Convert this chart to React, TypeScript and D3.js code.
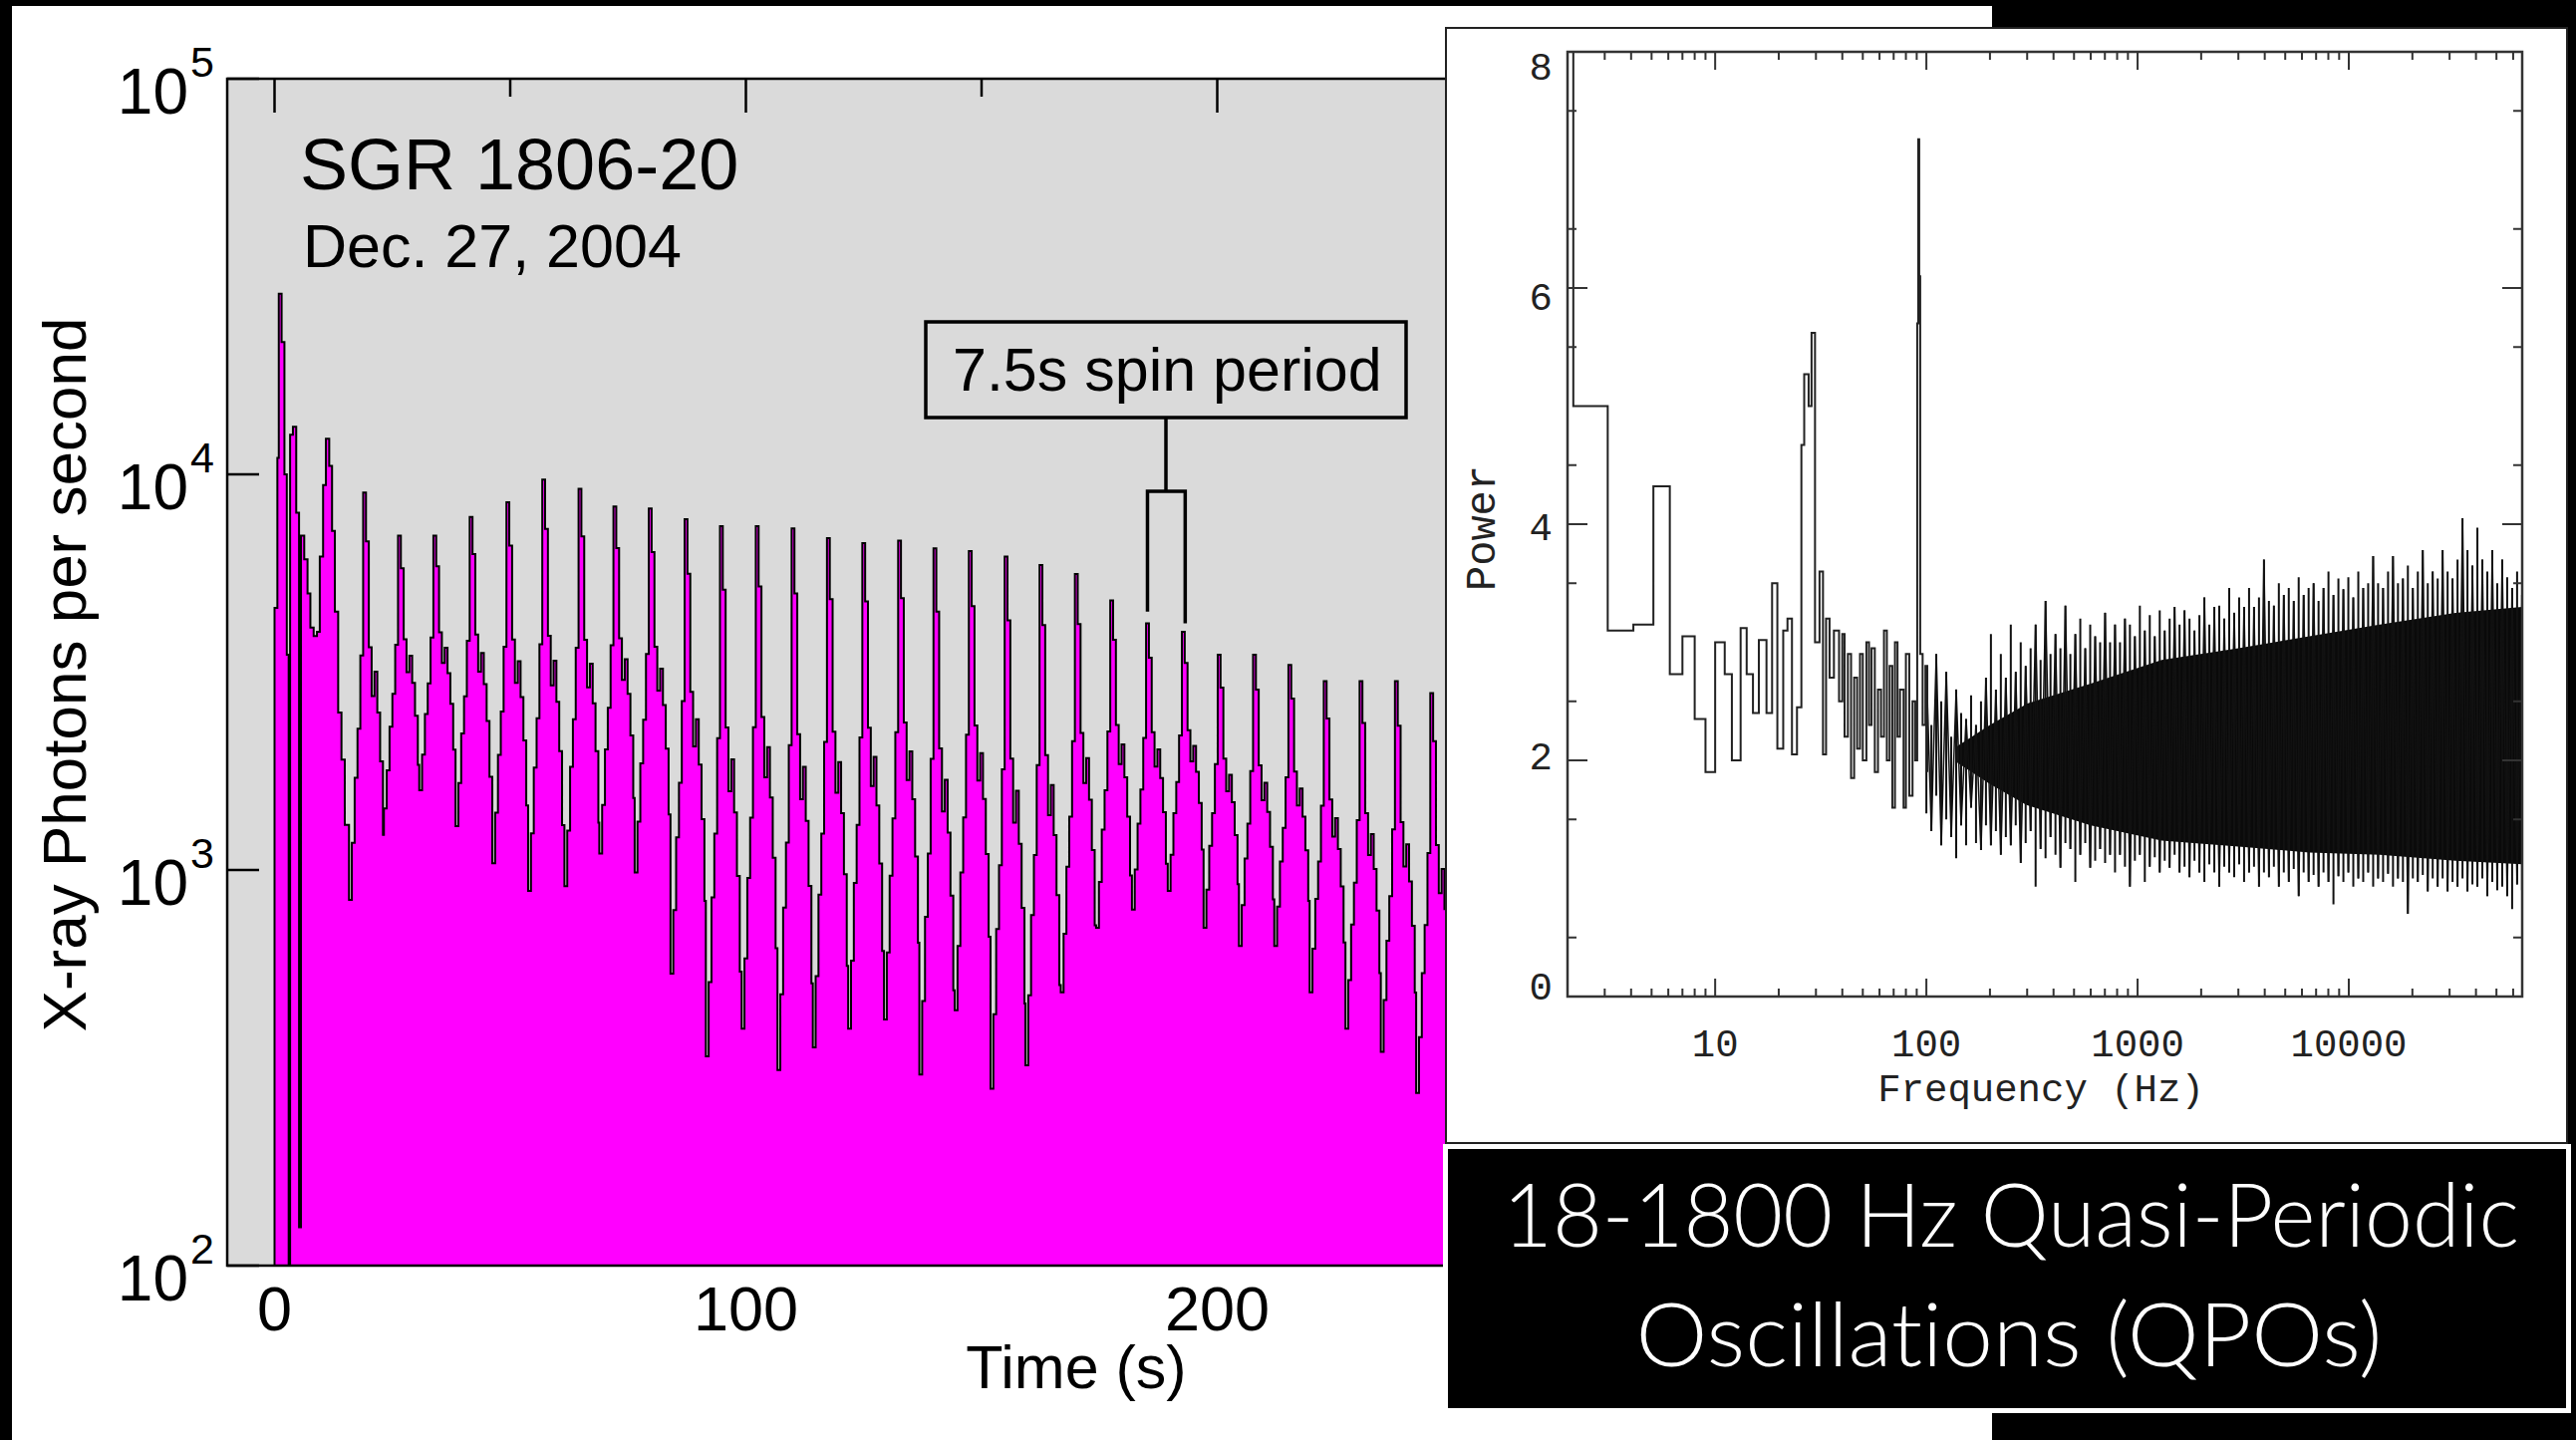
import React from 'react';
import * as d3 from 'd3';

// ---------------- Left panel: SGR 1806-20 light curve ----------------
const timeMajorTicks = [0, 100, 200, 300];
const timeMinorTicks = [50, 150, 250];
const countTicks = [100, 1000, 10000, 100000];
const countTickExponents = ['2', '3', '4', '5'];

// initial flare (time s, photons/s) steps
const burstTimes = [0, 0, 0.6, 0.9, 1.5, 2.1, 2.6, 3.0, 3.3, 3.9, 4.6, 5.2, 5.6, 6.3, 7.0, 7.6, 8.3, 9.0, 9.6, 10.3, 10.9, 11.6, 12.2, 12.8, 13.5, 14.2, 14.9];
const burstCounts = [10, 4600, 11000, 28600, 21600, 10000, 3500, 50, 12600, 13200, 8000, 125, 7000, 6100, 5000, 4100, 3900, 4000, 6200, 9400, 12300, 10500, 7200, 4500, 2500, 1900, 1300];

// pulse cycles after the flare: peak time, peak rate, and the trough that precedes each peak
const pulsePeakTimes = [19.1, 26.5, 34.0, 41.7, 49.5, 57.1, 64.8, 72.2, 79.7, 87.3, 94.8, 102.4, 110.0, 117.5, 125.0, 132.6, 140.1, 147.6, 155.2, 162.6, 170.1, 177.6, 185.2, 192.8, 200.4, 207.9, 215.4, 222.9, 230.5, 238.0, 245.5];
const pulsePeakCounts = [9000, 7000, 7000, 7800, 8500, 9700, 9200, 8300, 8200, 7700, 7400, 7400, 7300, 6900, 6700, 6800, 6500, 6400, 6200, 5900, 5600, 4800, 4200, 4000, 3500, 3500, 3300, 3000, 3000, 3000, 2800];
const pulseTroughCounts = [840, 1430, 1590, 1290, 1040, 885, 910, 1100, 985, 547, 338, 397, 312, 356, 397, 419, 304, 442, 280, 321, 491, 714, 794, 885, 714, 643, 643, 491, 397, 347, 273];
// pulse profile: bin start (s from peak) and level (0 = trough, 1 = peak, in log rate)
const pulseOffsets = [-3.3, -2.7, -2.1, -1.5, -0.9, -0.3, 0.3, 0.9, 1.5, 2.1, 2.7, 3.3, 3.9];
const pulseLevels = [0.0, 0.14, 0.3, 0.42, 0.6, 1.0, 0.88, 0.62, 0.5, 0.56, 0.46, 0.34, 0.16];

// ---------------- Right panel: power spectrum ----------------
const freqMajorTicks = [10, 100, 1000, 10000];
const powerMajorTicks = [0, 2, 4, 6, 8];

const lowFreqEdges = [1.9, 2.13, 3.1, 4.1, 5.1, 6.1, 7.0, 8.0, 9.0, 10.0, 11.1, 12.0, 13.2, 14.1, 15.1, 16.1, 17.5, 18.6, 19.7, 21.0, 22.0, 23.1, 24.4, 25.6, 26.4, 27.7, 28.6, 29.7, 31.2, 32.4, 33.5, 34.8, 36.5, 38.6];
const lowFreqPower = [9, 5.0, 3.1, 3.15, 4.32, 2.73, 3.05, 2.35, 1.9, 3.0, 2.73, 2.0, 3.12, 2.73, 2.4, 3.02, 2.4, 3.5, 2.1, 3.1, 3.2, 2.05, 2.45, 4.67, 5.27, 5.0, 5.62, 3.0, 3.6, 2.05, 3.2, 2.7, 3.1, 2.5];

const midFreq = [40, 41, 42.5, 44, 45.5, 47, 48.5, 50, 52, 53.5, 55, 57, 59, 61, 63, 65, 67, 69, 71, 73, 75, 78, 80, 83, 86, 88.5, 90.5, 91.5, 92.5, 93.5, 96, 99, 101];
const midPower = [3.07, 2.2, 2.9, 1.85, 2.7, 2.1, 2.9, 2.0, 3.0, 2.3, 2.95, 1.9, 2.6, 2.2, 3.1, 2.0, 2.8, 1.6, 3.0, 2.2, 2.6, 1.6, 2.9, 1.7, 2.5, 2.0, 5.7, 7.26, 6.1, 2.9, 2.3, 2.8, 1.9];

// dense high-frequency part: solid core + individual bins (freq, min, max)
const coreFreq = [140, 200, 300, 600, 1300, 3000, 6500, 14000, 32000, 66200];
const coreUpper = [2.12, 2.3, 2.48, 2.65, 2.85, 2.95, 3.05, 3.15, 3.25, 3.3];
const coreLower = [1.98, 1.8, 1.62, 1.45, 1.32, 1.27, 1.22, 1.2, 1.15, 1.12];

const combFreq = [100, 105.6, 111.4, 117.6, 124.2, 131.1, 138.4, 146.1, 154.2, 162.8, 171.8, 181.4, 191.5, 202.1, 213.4, 225.2, 237.8, 251.0, 264.9, 279.7, 295.2, 311.6, 329.0, 347.3, 366.6, 387.0, 408.5, 431.2, 455.2, 480.5, 507.2, 535.4, 565.2, 596.6, 629.8, 664.8, 701.8, 740.8, 782.0, 825.5, 871.4, 919.8, 971.0, 1025, 1082, 1142, 1206, 1273, 1344, 1418, 1497, 1580, 1668, 1761, 1859, 1962, 2071, 2186, 2308, 2436, 2572, 2715, 2866, 3025, 3193, 3371, 3558, 3756, 3965, 4186, 4418, 4664, 4923, 5197, 5486, 5791, 6113, 6453, 6812, 7191, 7590, 8012, 8458, 8928, 9425, 9949, 10500, 11090, 11700, 12350, 13040, 13760, 14530, 15340, 16190, 17090, 18040, 19040, 20100, 21220, 22400, 23650, 24960, 26350, 27810, 29360, 30990, 32720, 34540, 36460, 38480, 40620, 42880, 45270, 47780, 50440, 53250, 56210, 59330, 62630, 66110];
const combHigh = [2.8, 2.3, 2.9, 2.5, 2.75, 2.2, 2.6, 2.4, 2.35, 2.55, 2.3, 2.5, 2.7,
  3.07, 2.6, 2.9, 2.7, 3.15, 2.75, 3.0, 2.8, 2.95, 3.15, 2.85, 3.35, 2.9,
  3.07, 2.95, 3.31, 2.9, 3.07, 3.2, 2.95, 3.15, 3.05, 3.0, 3.25, 3.0, 3.15,
  3.0, 3.2, 3.15, 3.05, 3.31, 3.1, 3.23, 3.05, 3.27, 3.1, 3.2, 3.3, 3.15,
  3.27, 3.2, 3.1, 3.23, 3.38, 3.15, 3.3, 3.31, 3.2, 3.46, 3.25, 3.38, 3.3,
  3.46, 3.3, 3.38, 3.7, 3.35, 3.31, 3.5, 3.4, 3.46, 3.35, 3.55, 3.4, 3.46,
  3.5, 3.35, 3.46, 3.6, 3.4, 3.54, 3.45, 3.55, 3.38, 3.6, 3.46, 3.5, 3.73,
  3.5, 3.46, 3.6, 3.73, 3.5, 3.54, 3.65, 3.46, 3.6, 3.78, 3.5, 3.6, 3.54,
  3.78, 3.6, 3.54, 3.7, 4.05, 3.78, 3.65, 3.97, 3.7, 3.6, 3.78, 3.5, 3.7, 3.55, 3.46, 3.6, 3.4];
const combLow = [1.55, 1.4, 1.7, 1.28, 1.5, 1.35, 1.17, 1.45, 1.28, 1.6, 1.3, 1.24, 1.45,
  1.28, 1.4, 1.2, 1.35, 1.28, 1.45, 1.13, 1.3, 1.4, 0.93, 1.25, 1.17, 1.35,
  1.2, 1.09, 1.3, 1.25, 0.97, 1.2, 1.3, 1.09, 1.15, 1.25, 1.13, 1.2, 1.05,
  1.2, 1.1, 0.93, 1.15, 1.2, 0.97, 1.1, 1.18, 1.05, 1.15, 1.09, 1.2, 1.05,
  1.1, 1.01, 1.15, 1.05, 0.97, 1.12, 1.05, 0.93, 1.1, 1.05, 1.01, 1.12, 0.97,
  1.05, 1.1, 0.93, 1.05, 1.01, 1.1, 0.93, 1.05, 0.97, 1.08, 0.85, 1.05, 0.97,
  1.03, 0.93, 1.05, 0.97, 0.78, 1.02, 0.97, 1.05, 0.93, 1.0, 0.97, 1.05, 0.93,
  1.0, 0.97, 1.04, 0.93, 1.0, 0.97, 0.7, 1.0, 0.97, 1.03, 0.89, 1.0, 0.93,
  1.0, 0.89, 0.97, 0.93, 1.0, 0.89, 0.95, 0.93, 1.0, 0.85, 0.97, 0.9, 0.93, 0.85, 0.74, 0.95, 0.9];

// ---------------- Layout ----------------
const W = 2585;
const H = 1445;
const LC = { left: 228, top: 79, right: 1460, bottom: 1270 };
const PS = { left: 1573, top: 52, right: 2531, bottom: 1000 };
const SANS = '"Liberation Sans", Arial, Helvetica, sans-serif';
const MONO = '"Liberation Mono", "Courier New", monospace';
const CAPTION_FONT = "Lato, 'Open Sans', sans-serif";

export default function App() {
  const x = d3.scaleLinear().domain([0, 200]).range([275.5, 1221.5]);
  const y = d3.scaleLog().domain([100, 100000]).range([LC.bottom, LC.top]);

  const pts: [number, number][] = [];
  burstTimes.forEach((t, i) => pts.push([t, burstCounts[i]]));
  pulsePeakTimes.forEach((tp, i) => {
    const P = Math.log10(pulsePeakCounts[i]);
    const T = Math.log10(pulseTroughCounts[i]);
    pulseOffsets.forEach((o, j) => pts.push([tp + o, Math.pow(10, T + (P - T) * pulseLevels[j])]));
  });
  pts.push([252, 400]);

  const area = d3
    .area<[number, number]>()
    .x((d) => x(d[0]))
    .y0(LC.bottom + 5)
    .y1((d) => y(Math.max(d[1], 1)))
    .curve(d3.curveStepAfter);
  const line = d3
    .line<[number, number]>()
    .x((d) => x(d[0]))
    .y((d) => y(Math.max(d[1], 1)))
    .curve(d3.curveStepAfter);

  // power spectrum
  const fx = d3.scaleLog().domain([2, 66200]).range([PS.left, PS.right]);
  const py = d3.scaleLinear().domain([0, 8]).range([PS.bottom, PS.top]);
  const powerLabelY = d3.scaleLinear().domain([0, 8]).range([991, 68]);
  const stepPts: [number, number][] = [];
  lowFreqPower.forEach((p, i) => stepPts.push([lowFreqEdges[i], p]));
  midFreq.forEach((f, i) => stepPts.push([f, midPower[i]]));
  const psLine = d3
    .line<[number, number]>()
    .x((d) => fx(d[0]))
    .y((d) => py(d[1]))
    .curve(d3.curveStepAfter);
  const corePath =
    'M' +
    coreFreq.map((f, i) => `${fx(f)},${py(coreUpper[i])}`).join('L') +
    'L' +
    coreFreq
      .map((f, i) => `${fx(f)},${py(coreLower[i])}`)
      .reverse()
      .join('L') +
    'Z';
  const combPath = combFreq
    .map((f, i) => `M${fx(f)},${py(combLow[i])}V${py(combHigh[i])}`)
    .join('');
  const zigPath =
    'M' +
    combFreq
      .map((f, i) => `${fx(f)},${py(i % 2 === 0 ? combHigh[i] : combLow[i])}`)
      .join('L');

  const freqMinor: number[] = [];
  for (let e = 0; e <= 4; e++) {
    for (let k = 2; k <= 9; k++) {
      const v = k * Math.pow(10, e);
      if (v >= 2 && v <= 66200) freqMinor.push(v);
    }
  }
  const powerMinor = d3.range(0.5, 8, 1);

  return (
    <svg
      width={W}
      height={H}
      viewBox={`0 0 ${W} ${H}`}
      style={{ position: 'absolute', left: 0, top: 0, display: 'block' }}
    >
      <defs>
        <clipPath id="lcClip">
          <rect x={LC.left} y={LC.top} width={LC.right - LC.left} height={LC.bottom - LC.top} />
        </clipPath>
        <clipPath id="psClip">
          <rect x={PS.left} y={PS.top} width={PS.right - PS.left} height={PS.bottom - PS.top} />
        </clipPath>
      </defs>
      <rect x={0} y={0} width={W} height={H} fill="#000" />
      <rect x={12} y={6} width={1987} height={H} fill="#fff" />

      {/* ---------- Left light curve ---------- */}
      <rect x={LC.left} y={LC.top} width={LC.right - LC.left} height={LC.bottom - LC.top} fill="#dadada" />
      <g clipPath="url(#lcClip)">
        <path d={area(pts) || ''} fill="#ff00ff" />
        <path d={line(pts) || ''} fill="none" stroke="#000" strokeWidth={2} />
      </g>
      {timeMajorTicks.map((t) => (
        <line key={'tM' + t} x1={x(t)} x2={x(t)} y1={LC.top} y2={LC.top + 34} stroke="#000" strokeWidth={2.5} />
      ))}
      {timeMinorTicks.map((t) => (
        <line key={'tm' + t} x1={x(t)} x2={x(t)} y1={LC.top} y2={LC.top + 18} stroke="#000" strokeWidth={2.5} />
      ))}
      {countTicks.map((c) => (
        <line key={'cM' + c} x1={LC.left} x2={LC.left + 32} y1={y(c)} y2={y(c)} stroke="#000" strokeWidth={2.5} />
      ))}
      <rect x={LC.left} y={LC.top} width={LC.right - LC.left} height={LC.bottom - LC.top} fill="none" stroke="#000" strokeWidth={2.5} />

      {countTicks.map((c, i) => (
        <text key={'cl' + c} fontFamily={SANS} fill="#000">
          <tspan x={189} y={y(c) + 35} fontSize={64} textAnchor="end">10</tspan>
          <tspan x={191} y={y(c) - 2} fontSize={43}>{countTickExponents[i]}</tspan>
        </text>
      ))}
      {timeMajorTicks.slice(0, 3).map((t) => (
        <text key={'tl' + t} x={x(t)} y={1335} fontFamily={SANS} fontSize={63} textAnchor="middle" fill="#000">
          {t}
        </text>
      ))}
      <text x={1080} y={1393} fontFamily={SANS} fontSize={61} textAnchor="middle" fill="#000">
        Time (s)
      </text>
      <text transform="translate(86,677) rotate(-90)" fontFamily={SANS} fontSize={62} textAnchor="middle" fill="#000">
        X-ray Photons per second
      </text>
      <text x={301} y={190} fontFamily={SANS} fontSize={72} fill="#000">
        SGR 1806-20
      </text>
      <text x={304} y={268} fontFamily={SANS} fontSize={61} fill="#000">
        Dec. 27, 2004
      </text>
      <rect x={929} y={323} width={482} height={96} fill="none" stroke="#000" strokeWidth={3.5} />
      <text x={956} y={392} fontFamily={SANS} fontSize={61} fill="#000">
        7.5s spin period
      </text>
      <line x1={1170} x2={1170} y1={419} y2={493} stroke="#000" strokeWidth={3.5} />
      <path d={`M${x(185.2)},${y(4500)}V493H${x(193.2)}V${y(4200)}`} fill="none" stroke="#000" strokeWidth={3.5} />

      {/* ---------- Right power spectrum ---------- */}
      <rect x={1451} y={28} width={1125} height={1119} fill="#fff" stroke="#222" strokeWidth={2} />
      <g clipPath="url(#psClip)">
        <path d={corePath} fill="#0a0a0a" />
        <path d={combPath} fill="none" stroke="#111" strokeWidth={2} />
        <path d={zigPath} fill="none" stroke="#111" strokeWidth={1.5} />
        <path d={psLine(stepPts) || ''} fill="none" stroke="#222" strokeWidth={2} />
      </g>
      {freqMajorTicks.map((f) => (
        <g key={'fM' + f}>
          <line x1={fx(f)} x2={fx(f)} y1={PS.bottom} y2={PS.bottom - 18} stroke="#333" strokeWidth={2} />
          <line x1={fx(f)} x2={fx(f)} y1={PS.top} y2={PS.top + 18} stroke="#333" strokeWidth={2} />
          <text x={fx(f)} y={1060} fontFamily={MONO} fontSize={39} textAnchor="middle" fill="#222">
            {f}
          </text>
        </g>
      ))}
      {freqMinor.map((f) => (
        <g key={'fm' + f}>
          <line x1={fx(f)} x2={fx(f)} y1={PS.bottom} y2={PS.bottom - 8} stroke="#333" strokeWidth={2} />
          <line x1={fx(f)} x2={fx(f)} y1={PS.top} y2={PS.top + 8} stroke="#333" strokeWidth={2} />
        </g>
      ))}
      {powerMajorTicks.map((p) => (
        <g key={'pM' + p}>
          <line x1={PS.left} x2={PS.left + 20} y1={py(p)} y2={py(p)} stroke="#333" strokeWidth={2} />
          <line x1={PS.right} x2={PS.right - 20} y1={py(p)} y2={py(p)} stroke="#333" strokeWidth={2} />
          <text x={1558} y={powerLabelY(p) + 12} fontFamily={MONO} fontSize={39} textAnchor="end" fill="#222">
            {p}
          </text>
        </g>
      ))}
      {powerMinor.map((p) => (
        <g key={'pm' + p}>
          <line x1={PS.left} x2={PS.left + 9} y1={py(p)} y2={py(p)} stroke="#333" strokeWidth={2} />
          <line x1={PS.right} x2={PS.right - 9} y1={py(p)} y2={py(p)} stroke="#333" strokeWidth={2} />
        </g>
      ))}
      <rect x={PS.left} y={PS.top} width={PS.right - PS.left} height={PS.bottom - PS.top} fill="none" stroke="#333" strokeWidth={2.5} />
      <text x={2048} y={1105} fontFamily={MONO} fontSize={39} textAnchor="middle" fill="#222">
        Frequency (Hz)
      </text>
      <text transform="translate(1500,530) rotate(-90)" fontFamily={MONO} fontSize={42} textAnchor="middle" fill="#222">
        Power
      </text>

      {/* ---------- Caption ---------- */}
      <rect x={1450.5} y={1150.5} width={1127} height={265} fill="#000" stroke="#fff" strokeWidth={5} />
      <text
        x={2018}
        y={1251}
        fontFamily={CAPTION_FONT}
        fontWeight={300}
        fontSize={88}
        textAnchor="middle"
        fill="#fff"
        textLength={1020}
        lengthAdjust="spacingAndGlyphs"
        style={{ fontVariantLigatures: 'none', fontFeatureSettings: '"liga" 0, "clig" 0' }}
      >
        18-1800 Hz Quasi-Periodic
      </text>
      <text
        x={2016}
        y={1371}
        fontFamily={CAPTION_FONT}
        fontWeight={300}
        fontSize={88}
        textAnchor="middle"
        fill="#fff"
        textLength={749}
        lengthAdjust="spacingAndGlyphs"
        style={{ fontVariantLigatures: 'none', fontFeatureSettings: '"liga" 0, "clig" 0' }}
      >
        Oscillations (QPOs)
      </text>
    </svg>
  );
}
